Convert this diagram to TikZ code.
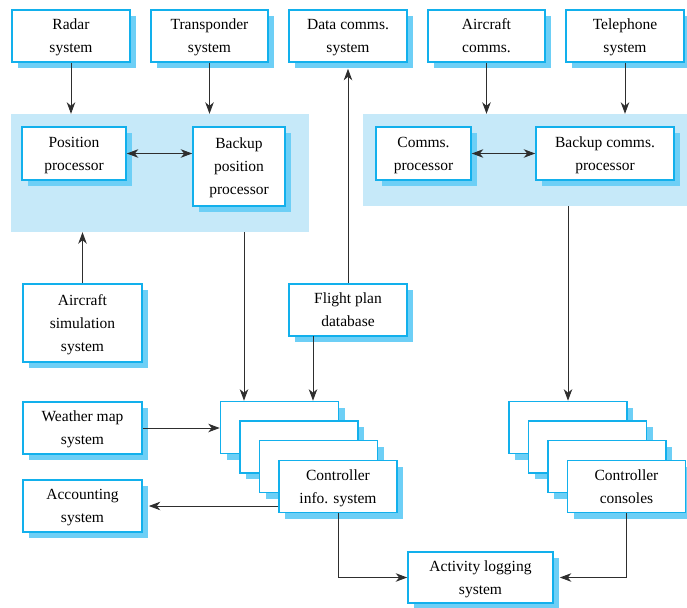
\documentclass[tikz,border=0pt]{standalone}
\usepackage{fontspec}
\setmainfont{Liberation Serif}
\usetikzlibrary{arrows.meta,shadows}
\definecolor{boxline}{HTML}{12B0EC}
\definecolor{boxshade}{HTML}{6DCFF6}
\definecolor{groupfill}{HTML}{C6E9F9}
\definecolor{wire}{HTML}{2E2E2E}
\tikzset{
  box/.style={draw=boxline, line width=1.6pt, fill=white, inner sep=0pt,
    align=center, font=\fontsize{15.5}{23}\selectfont,
    text height=33.5pt, text depth=0pt,
    general shadow={fill=boxshade, shadow xshift=6pt, shadow yshift=-6pt}},
  threeline/.style={text height=56.5pt},
  group/.style={fill=groupfill, draw=none, inner sep=0pt},
  arr/.style={draw=wire, line width=0.9pt, -{Stealth[length=11.5pt,width=8.5pt,inset=3.5pt]}},
  biarr/.style={draw=wire, line width=0.9pt, {Stealth[length=11.5pt,width=8.5pt,inset=3.5pt]}-{Stealth[length=11.5pt,width=8.5pt,inset=3.5pt]}}
}
\begin{document}
\begin{tikzpicture}[x=1pt,y=-1pt]
\useasboundingbox (0,0) rectangle (687,607);

% processor groups
\node[group, minimum width=298pt, minimum height=118pt] (lreg) at (160,173) {};
\node[group, minimum width=324pt, minimum height=92pt] (rreg) at (525,160) {};

% external systems along the top
\node[box, minimum width=118pt, minimum height=52pt] (radar) at (71,36) {Radar\\system};
\node[box, minimum width=117pt, minimum height=52pt] (transp) at (209.5,36) {Transponder\\system};
\node[box, minimum width=118pt, minimum height=52pt] (datacomms) at (348,36) {Data comms.\\system};
\node[box, minimum width=117pt, minimum height=52pt] (aircomms) at (486.5,36) {Aircraft\\comms.};
\node[box, minimum width=118pt, minimum height=52pt] (tele) at (625,36) {Telephone\\system};

% processors
\node[box, minimum width=104pt, minimum height=53pt] (pospro) at (74,153.5) {Position\\processor};
\node[box, threeline, minimum width=92pt, minimum height=79pt] (backpos) at (239,166.5) {Backup\\position\\processor};
\node[box, minimum width=95pt, minimum height=53pt] (commspro) at (423.5,153.5) {Comms.\\processor};
\node[box, minimum width=138pt, minimum height=53pt] (backcomms) at (605,153.5) {Backup comms.\\processor};

% middle systems
\node[box, threeline, minimum width=119pt, minimum height=78pt] (sim) at (82.5,323) {Aircraft\\simulation\\system};
\node[box, minimum width=118pt, minimum height=52pt] (fp) at (348,310) {Flight plan\\database};

% controller info system stack
\node[box, minimum width=118pt, minimum height=52pt] (ls1) at (279.5,427.5) {};
\node[box, minimum width=118pt, minimum height=52pt] (ls2) at (299,447) {};
\node[box, minimum width=118pt, minimum height=52pt] (ls3) at (318.5,466.5) {};
\node[box, minimum width=118pt, minimum height=52pt] (ls4) at (338,486.5) {Controller\\info. system};

% controller console stack
\node[box, minimum width=118pt, minimum height=52pt] (rs1) at (568,427.5) {};
\node[box, minimum width=118pt, minimum height=52pt] (rs2) at (587.5,447) {};
\node[box, minimum width=118pt, minimum height=52pt] (rs3) at (607,466.5) {};
\node[box, minimum width=118pt, minimum height=52pt] (rs4) at (626.5,486.5) {Controller\\consoles};

% lower systems
\node[box, minimum width=119pt, minimum height=52pt] (weather) at (82.5,428) {Weather map\\system};
\node[box, minimum width=119pt, minimum height=52pt] (acc) at (82.5,506) {Accounting\\system};
\node[box, minimum width=145pt, minimum height=51pt] (act) at (480.5,577.5) {Activity logging\\system};

% connectors
\draw[arr] (radar.south) -- (radar.south |- lreg.north);
\draw[arr] (transp.south) -- (transp.south |- lreg.north);
\draw[arr] (aircomms.south) -- (aircomms.south |- rreg.north);
\draw[arr] (tele.south) -- (tele.south |- rreg.north);
\draw[biarr] (pospro.east) -- (pospro.east -| backpos.west);
\draw[biarr] (commspro.east) -- (commspro.east -| backcomms.west);
\draw[arr] (sim.north) -- (sim.north |- lreg.south);
\draw[arr] (fp.north) -- ([yshift=-6pt]datacomms.south);
\coordinate (lout) at (244,232);
\draw[arr] (lout) -- (lout |- ls1.north);
\coordinate (fpout) at (313,336);
\draw[arr] (fpout) -- (fpout |- ls1.north);
\draw[arr] (rs1.north |- rreg.south) -- (rs1.north);
\draw[arr] (weather.east) -- (weather.east -| ls1.west);
\draw[arr] (ls4.west |- acc.east) -- ([xshift=6pt]acc.east);
\draw[arr] (ls4.south) |- (act.west);
\draw[arr] (rs4.south) |- ([xshift=6pt]act.east);
\end{tikzpicture}
\end{document}
